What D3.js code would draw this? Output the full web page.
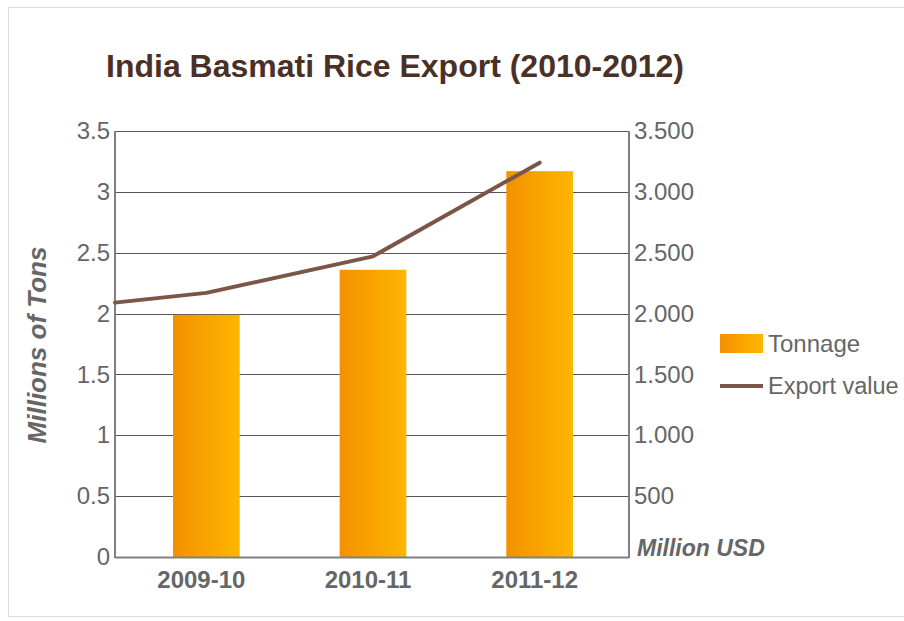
<!DOCTYPE html>
<html>
<head>
<meta charset="utf-8">
<script src="https://cdnjs.cloudflare.com/ajax/libs/d3/7.8.5/d3.min.js"></script>
<style>
  body { margin: 0; background: #fff; }
  svg { display: block; font-family: "Liberation Sans", Arial, sans-serif; }
</style>
</head>
<body>
<div id="chart"></div>
<script>
// data
var seasons = ["2009-10", "2010-11", "2011-12"];
var tonnage = [1.99, 2.36, 3.17];            // million tons
var exportValue = [2170, 2470, 3240];        // million USD
var exportStart = 2090;                      // where the line enters at the left edge
var leftTicks = [0, 0.5, 1, 1.5, 2, 2.5, 3, 3.5];
var rightTicks = [500, 1000, 1500, 2000, 2500, 3000, 3500];

var width = 904, height = 621;
var plot = { left: 115, right: 629, top: 131, bottom: 557 };
var labelGray = "#666";

var svg = d3.select("#chart").append("svg")
  .attr("width", width)
  .attr("height", height);

// outer frame
svg.append("rect")
  .attr("x", 8.5).attr("y", 7.5)
  .attr("width", width).attr("height", 609)
  .attr("fill", "#fff")
  .attr("stroke", "#dcdcdc");

var defs = svg.append("defs");
var grad = defs.append("linearGradient")
  .attr("id", "barGrad")
  .attr("x1", "0%").attr("x2", "100%").attr("y1", "0%").attr("y2", "0%");
grad.append("stop").attr("offset", "0%").attr("stop-color", "#f39100");
grad.append("stop").attr("offset", "100%").attr("stop-color", "#ffb600");

var x = d3.scaleBand()
  .domain(seasons)
  .range([123, 623])
  .paddingInner(0.6)
  .paddingOuter(0.3);

var y = d3.scaleLinear().domain([0, 3.5]).range([plot.bottom, plot.top]);
var y2 = d3.scaleLinear().domain([0, 3500]).range([plot.bottom, plot.top]);

// title
svg.append("text")
  .attr("x", 106)
  .attr("y", 77)
  .attr("font-size", 32)
  .attr("font-weight", "bold")
  .attr("fill", "#4a3026")
  .text("India Basmati Rice Export (2010-2012)");

// gridlines
svg.append("g")
  .selectAll("line")
  .data(leftTicks)
  .enter().append("line")
  .attr("x1", plot.left).attr("x2", plot.right)
  .attr("y1", function (d) { return Math.round(y(d)) + 0.5; })
  .attr("y2", function (d) { return Math.round(y(d)) + 0.5; })
  .attr("stroke", "#555")
  .attr("stroke-width", 1);

// bars
svg.append("g")
  .selectAll("rect")
  .data(tonnage)
  .enter().append("rect")
  .attr("x", function (d, i) { return x(seasons[i]); })
  .attr("y", function (d) { return y(d); })
  .attr("width", x.bandwidth())
  .attr("height", function (d) { return y(0) - y(d); })
  .attr("fill", "url(#barGrad)");

// axis lines
svg.append("line")
  .attr("x1", plot.left).attr("x2", plot.left)
  .attr("y1", plot.top).attr("y2", plot.bottom + 1)
  .attr("stroke", "#808080").attr("stroke-width", 2);
svg.append("line")
  .attr("x1", plot.right).attr("x2", plot.right)
  .attr("y1", plot.top).attr("y2", plot.bottom + 1)
  .attr("stroke", "#808080").attr("stroke-width", 2);
svg.append("line")
  .attr("x1", plot.left).attr("x2", plot.right)
  .attr("y1", plot.bottom + 0.5).attr("y2", plot.bottom + 0.5)
  .attr("stroke", "#808080").attr("stroke-width", 2);

// export value line
var linePts = [[plot.left, exportStart]].concat(exportValue.map(function (v, i) {
  return [x(seasons[i]) + x.bandwidth() / 2, v];
}));
var line = d3.line()
  .x(function (d) { return d[0]; })
  .y(function (d) { return y2(d[1]); });
svg.append("path")
  .datum(linePts)
  .attr("d", line)
  .attr("fill", "none")
  .attr("stroke", "#7b5548")
  .attr("stroke-width", 4)
  .attr("stroke-linejoin", "round")
  .attr("stroke-linecap", "round");

// left axis labels
var leftAxis = d3.axisLeft(y).tickValues(leftTicks).tickSize(0).tickPadding(5)
  .tickFormat(function (d) { return d3.format("")(d); });
var gl = svg.append("g")
  .attr("transform", "translate(" + plot.left + ",0)")
  .call(leftAxis);
gl.select(".domain").remove();
gl.selectAll("text")
  .attr("font-size", 24)
  .attr("font-family", "Liberation Sans, Arial, sans-serif")
  .attr("fill", labelGray);

// right axis labels
var rightAxis = d3.axisRight(y2).tickValues(rightTicks).tickSize(0).tickPadding(5)
  .tickFormat(function (d) { return d3.format(",")(d).replace(",", "."); });
var gr = svg.append("g")
  .attr("transform", "translate(" + plot.right + ",0)")
  .call(rightAxis);
gr.select(".domain").remove();
gr.selectAll("text")
  .attr("font-size", 24)
  .attr("font-family", "Liberation Sans, Arial, sans-serif")
  .attr("fill", labelGray);

// x axis labels
var xAxis = d3.axisBottom(x).tickSize(0).tickPadding(14);
var gx = svg.append("g")
  .attr("transform", "translate(0," + plot.bottom + ")")
  .call(xAxis);
gx.select(".domain").remove();
gx.selectAll("text")
  .attr("dx", -5)
  .attr("font-size", 24)
  .attr("font-weight", "bold")
  .attr("font-family", "Liberation Sans, Arial, sans-serif")
  .attr("fill", labelGray);

// axis titles
svg.append("text")
  .attr("transform", "translate(46," + ((plot.top + plot.bottom) / 2 + 1) + ") rotate(-90)")
  .attr("text-anchor", "middle")
  .attr("font-size", 26)
  .attr("font-weight", "bold")
  .attr("font-style", "italic")
  .attr("fill", labelGray)
  .text("Millions of Tons");

svg.append("text")
  .attr("x", 637)
  .attr("y", plot.bottom - 1)
  .attr("font-size", 23)
  .attr("font-weight", "bold")
  .attr("font-style", "italic")
  .attr("fill", labelGray)
  .text("Million USD");

// legend
var legend = svg.append("g").attr("transform", "translate(720,334)");
legend.append("rect")
  .attr("x", 0).attr("y", 0)
  .attr("width", 43).attr("height", 19)
  .attr("fill", "url(#barGrad)");
legend.append("text")
  .attr("x", 48).attr("y", 18)
  .attr("font-size", 24)
  .attr("fill", labelGray)
  .text("Tonnage");
legend.append("line")
  .attr("x1", 0).attr("x2", 43)
  .attr("y1", 52).attr("y2", 52)
  .attr("stroke", "#7b5548")
  .attr("stroke-width", 4);
legend.append("text")
  .attr("x", 48).attr("y", 60)
  .attr("font-size", 23.5)
  .attr("fill", labelGray)
  .text("Export value");
</script>
</body>
</html>
